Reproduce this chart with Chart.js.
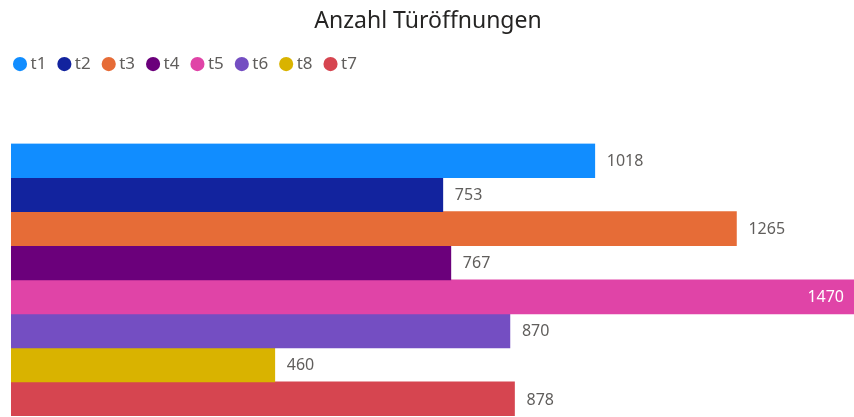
<!DOCTYPE html>
<html>
<head>
<meta charset="utf-8">
<script src="https://cdn.jsdelivr.net/npm/chart.js@4/dist/chart.umd.min.js"></script>
<style>
  html, body { margin: 0; padding: 0; background: #fff; }
  #wrap { width: 854px; height: 417px; }
</style>
</head>
<body>
<div id="wrap"><canvas id="doorChart" width="854" height="417"></canvas></div>
<script>
// Anzahl Türöffnungen je Tür (Reihenfolge wie in der Legende)
const categories = ['Anzahl Türöffnungen'];
const seriesNames = ['t1', 't2', 't3', 't4', 't5', 't6', 't8', 't7'];
const seriesValues = [1018, 753, 1265, 767, 1470, 870, 460, 878];
const seriesColors = ['#118DFF', '#12239E', '#E66C37', '#6B007B', '#E044A7', '#744EC2', '#D9B300', '#D64550'];

const FONT = "'Segoe UI', 'Noto Sans', 'Open Sans', sans-serif";

// value labels at the end of each bar
const valueLabels = {
  id: 'valueLabels',
  afterDatasetsDraw(chart) {
    const {ctx, chartArea} = chart;
    ctx.save();
    ctx.font = '16px ' + FONT;
    ctx.textBaseline = 'middle';
    chart.data.datasets.forEach((ds, i) => {
      const bar = chart.getDatasetMeta(i).data[0];
      if (!bar) return;
      const txt = String(ds.data[0]);
      const w = ctx.measureText(txt).width;
      if (bar.x + 12 + w > chartArea.right) {
        ctx.fillStyle = '#ffffff';
        ctx.textAlign = 'right';
        ctx.fillText(txt, bar.x - 10, bar.y + 1);
      } else {
        ctx.fillStyle = '#605E5C';
        ctx.textAlign = 'left';
        ctx.fillText(txt, bar.x + 12, bar.y + 1);
      }
    });
    ctx.restore();
  }
};

// extra room below the legend
const legendGap = {
  id: 'legendGap',
  beforeInit(chart) {
    const origFit = chart.legend.fit;
    chart.legend.fit = function () {
      origFit.bind(chart.legend)();
      this.height += 61;
    };
  }
};

new Chart(document.getElementById('doorChart').getContext('2d'), {
  type: 'bar',
  data: {
    labels: categories,
    datasets: seriesNames.map((name, i) => ({
      label: name,
      data: [seriesValues[i]],
      backgroundColor: seriesColors[i],
      categoryPercentage: 1,
      barPercentage: 1
    }))
  },
  options: {
    indexAxis: 'y',
    responsive: false,
    animation: false,
    layout: { padding: { left: 2, right: 0, top: 0, bottom: 1 } },
    scales: {
      x: { display: false, min: 0, max: 1470 },
      y: {
        display: true,
        grid: { display: false },
        border: { display: false },
        ticks: { display: false },
        afterFit(axis) { axis.width = 9; }
      }
    },
    plugins: {
      title: {
        display: true,
        text: 'Anzahl Türöffnungen',
        color: '#252423',
        font: { family: FONT, size: 23, weight: 'normal' },
        padding: { top: 8, bottom: 4 }
      },
      legend: {
        position: 'top',
        align: 'start',
        labels: {
          usePointStyle: true,
          pointStyle: 'circle',
          boxWidth: 4,
          boxHeight: 10,
          color: '#605E5C',
          padding: 16,
          font: { family: FONT, size: 17 }
        }
      },
      tooltip: { enabled: false }
    }
  },
  plugins: [legendGap, valueLabels]
});
</script>
</body>
</html>
